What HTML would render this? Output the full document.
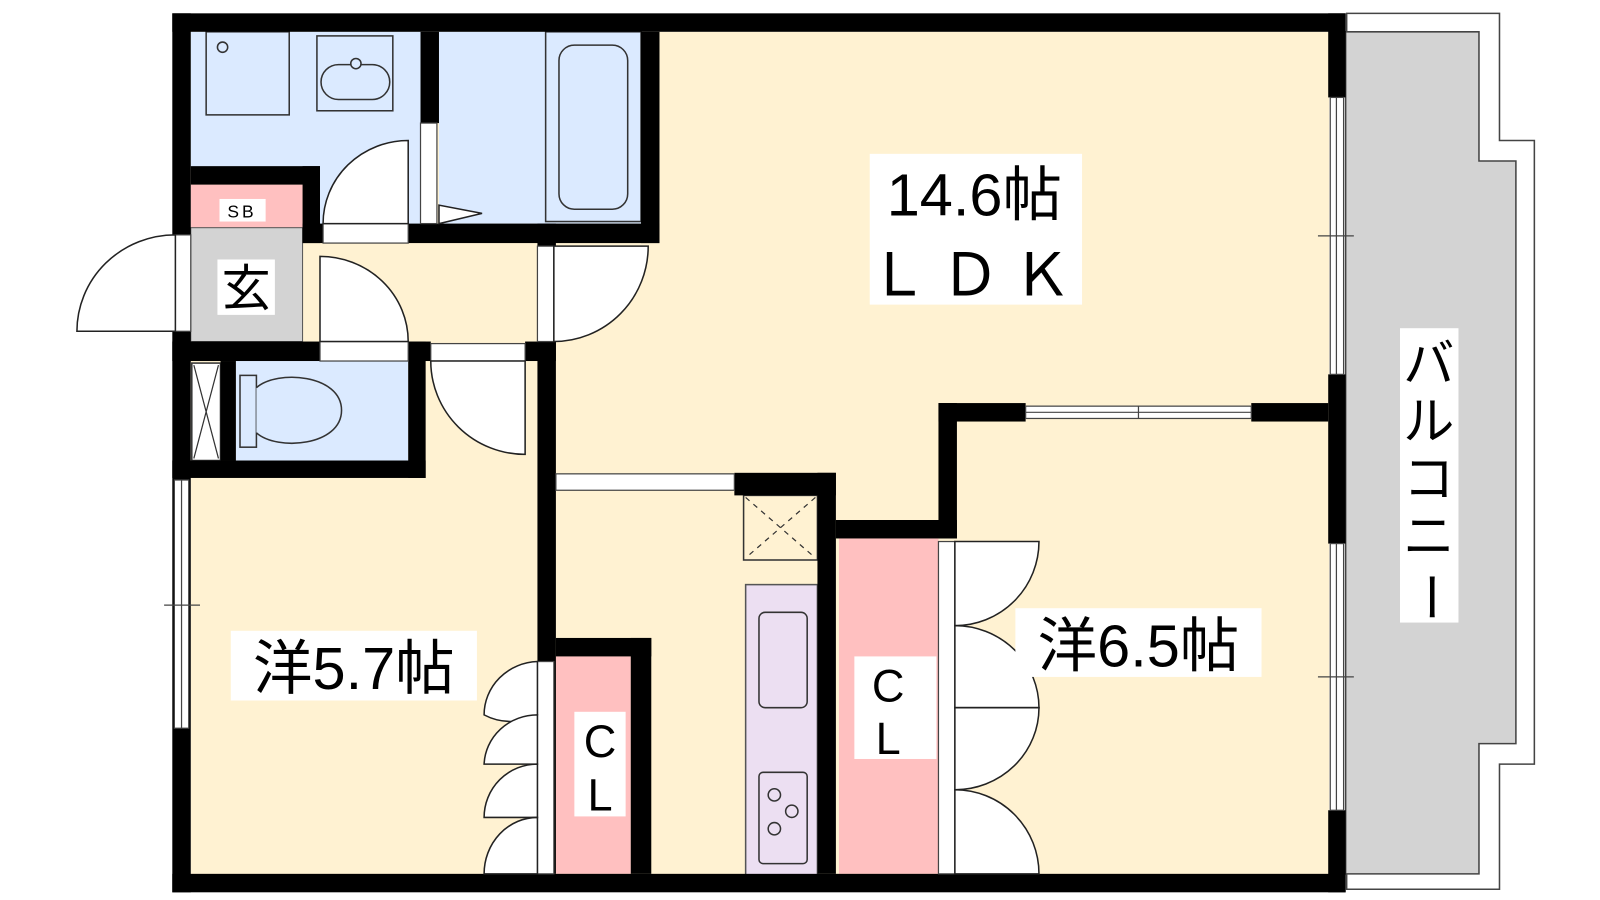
<!DOCTYPE html>
<html><head><meta charset="utf-8"><style>
html,body{margin:0;padding:0;background:#fff;}
svg{display:block}
text{font-family:"Liberation Sans","Noto Sans CJK JP",sans-serif;fill:#000}
</style></head><body>
<svg width="1600" height="900" viewBox="0 0 1560 877.5" preserveAspectRatio="none" xmlns="http://www.w3.org/2000/svg">
<rect width="1560" height="877.5" fill="#fff"/>
<!-- balcony -->
<polygon points="1313,13 1462,13 1462,137 1496,137 1496,745 1462,745 1462,867 1313,867" fill="#fff" stroke="#444" stroke-width="1.5"/>
<polygon points="1312,31 1442,31 1442,157 1478,157 1478,725 1442,725 1442,852 1312,852" fill="#d3d3d3" stroke="#444" stroke-width="1.5"/>
<!-- interior cream -->
<rect x="186" y="31" width="1110" height="822" fill="#fff2d2"/>
<!-- wash & bath -->
<rect x="186" y="31" width="224" height="132" fill="#dbeaff"/>
<rect x="312" y="31" width="98" height="200" fill="#dbeaff"/>
<rect x="428" y="31" width="197" height="187" fill="#dbeaff"/>
<rect x="201" y="31" width="81" height="81" fill="none" stroke="#333" stroke-width="1.5"/>
<circle cx="217" cy="46" r="5" fill="none" stroke="#333" stroke-width="1.5"/>
<rect x="309" y="35" width="74" height="73" fill="none" stroke="#333" stroke-width="1.5"/>
<rect x="313" y="63" width="67" height="34" rx="17" fill="none" stroke="#333" stroke-width="1.5"/>
<circle cx="347" cy="62" r="5" fill="#dbeaff" stroke="#333" stroke-width="1.5"/>
<rect x="532" y="31" width="93" height="185" fill="none" stroke="#333" stroke-width="1.5"/>
<rect x="545" y="44" width="67" height="160" rx="15" fill="none" stroke="#333" stroke-width="1.5"/>
<!-- SB / genkan -->
<rect x="186" y="180" width="109" height="42" fill="#ffc0c0"/>
<rect x="186" y="222" width="109" height="111" fill="#d3d3d3" stroke="#555" stroke-width="1"/>
<rect x="214" y="194" width="45" height="22" fill="#fff"/>
<text x="236" y="212" font-size="17" text-anchor="middle" letter-spacing="3">SB</text>
<rect x="212" y="253" width="56" height="54" fill="#fff"/>
<text x="240" y="298" font-size="48" text-anchor="middle">玄</text>
<!-- toilet -->
<rect x="230" y="352" width="168" height="97" fill="#dbeaff"/>
<rect x="187" y="354" width="28" height="95" fill="#fff" stroke="#333" stroke-width="1.5"/>
<path d="M189,356 L213,447 M213,356 L189,447" stroke="#333" stroke-width="1.2"/>
<rect x="234" y="366" width="16" height="70" fill="#dbeaff" stroke="#333" stroke-width="1.5"/>
<path d="M250,378 C270,360 333,365 333,400 C333,435 270,440 250,422" fill="#dbeaff" stroke="#333" stroke-width="1.5"/>
<!-- kitchen -->
<rect x="725" y="483" width="72" height="63" fill="none" stroke="#333" stroke-width="1.5"/>
<path d="M727,485 L795,544 M795,485 L727,544" stroke="#333" stroke-width="1.2" stroke-dasharray="5,5"/>
<rect x="727" y="570" width="70" height="283" fill="#ecdff2" stroke="#555" stroke-width="1.5"/>
<rect x="740" y="597" width="47" height="93" rx="6" fill="none" stroke="#333" stroke-width="1.5"/>
<rect x="740" y="753" width="47" height="89" rx="4" fill="none" stroke="#333" stroke-width="1.5"/>
<circle cx="755" cy="775" r="6" fill="none" stroke="#333" stroke-width="1.5"/>
<circle cx="772" cy="791" r="6" fill="none" stroke="#333" stroke-width="1.5"/>
<circle cx="755" cy="808" r="6" fill="none" stroke="#333" stroke-width="1.5"/>
<!-- closets -->
<rect x="542" y="640" width="73" height="212" fill="#ffc0c0"/>
<rect x="818" y="525" width="97" height="327" fill="#ffc0c0"/>
<!-- walls -->
<g fill="#000">
<rect x="168" y="13" width="1144" height="18"/>
<rect x="168" y="13" width="18" height="857"/>
<rect x="168" y="852" width="1144" height="18"/>
<rect x="1295" y="13" width="17" height="82"/>
<rect x="1295" y="365" width="17" height="165"/>
<rect x="1295" y="790" width="17" height="80"/>
<rect x="186" y="162" width="126" height="18"/>
<rect x="295" y="162" width="17" height="75"/>
<rect x="410" y="31" width="18" height="89"/>
<rect x="295" y="218" width="348" height="19"/>
<rect x="625" y="31" width="18" height="206"/>
<rect x="524" y="218" width="18" height="22"/>
<rect x="168" y="333" width="252" height="19"/>
<rect x="512" y="333" width="30" height="19"/>
<rect x="398" y="333" width="17" height="133"/>
<rect x="215" y="352" width="15" height="97"/>
<rect x="168" y="449" width="247" height="17"/>
<rect x="524" y="333" width="18" height="519"/>
<rect x="542" y="622" width="93" height="18"/>
<rect x="615" y="622" width="20" height="230"/>
<rect x="716" y="461" width="99" height="22"/>
<rect x="797" y="461" width="18" height="391"/>
<rect x="815" y="507" width="118" height="18"/>
<rect x="915" y="393" width="18" height="132"/>
<rect x="915" y="393" width="85" height="18"/>
<rect x="1220" y="393" width="75" height="18"/>
</g>
<!-- windows / slabs -->
<g fill="#fff" stroke="#444" stroke-width="1.2">
<rect x="1297" y="95" width="13" height="270"/>
<rect x="1297" y="530" width="13" height="260"/>
<rect x="170" y="468" width="14" height="242"/>
<rect x="1000" y="396" width="220" height="12"/>
<rect x="542" y="462" width="174" height="16"/>
<rect x="410" y="120" width="16" height="98"/>
<rect x="315" y="218" width="83" height="19"/>
<rect x="171" y="229" width="15" height="94"/>
<rect x="312" y="333" width="86" height="19"/>
<rect x="420" y="335" width="92" height="17"/>
<rect x="524" y="240" width="16" height="93"/>
<rect x="524" y="645" width="16" height="207"/>
<rect x="915" y="528" width="16" height="324"/>
</g>
<g stroke="#444" stroke-width="1.2">
<line x1="1303" y1="95" x2="1303" y2="365"/><line x1="1303" y1="530" x2="1303" y2="790"/>
<line x1="177" y1="468" x2="177" y2="710"/><line x1="1000" y1="402" x2="1220" y2="402"/>
<line x1="1285" y1="230" x2="1320" y2="230"/><line x1="1285" y1="660" x2="1320" y2="660"/>
<line x1="160" y1="590" x2="195" y2="590"/><line x1="1110" y1="396" x2="1110" y2="408"/>
</g>
<!-- doors -->
<g fill="#fff" stroke="#222" stroke-width="1.5">
<path d="M398,218 L398,137 A83,81 0 0 0 315,218 Z"/>
<path d="M171,323 L75,323 A96,94 0 0 1 171,229 Z"/>
<path d="M312,333 L312,250 A86,83 0 0 1 398,333 Z"/>
<path d="M512,352 L512,443 A92,91 0 0 1 420,352 Z"/>
<path d="M540,240 L632,240 A92,93 0 0 1 540,333 Z"/>
<path d="M428,218 L428,200 L470,208 Z"/>
<path d="M524,645 A54,52 0 0 0 472,697 A54,52 0 0 0 524,697 Z"/>
<path d="M524,697 A52,50 0 0 0 472,745 L524,745 Z"/>
<path d="M524,745 A52,52 0 0 0 472,797 L524,797 Z"/>
<path d="M524,797 A52,55 0 0 0 472,852 L524,852 Z"/>
<path d="M931,528 L1013,528 A82,82 0 0 1 931,610 Z"/>
<path d="M931,610 A82,80 0 0 1 1013,690 L931,690 Z"/>
<path d="M931,690 L1013,690 A82,80 0 0 1 931,770 Z"/>
<path d="M931,770 A82,82 0 0 1 1013,852 L931,852 Z"/>
</g>
<!-- labels -->
<rect x="848" y="150" width="207" height="147" fill="#fff"/>
<text x="950" y="210" font-size="58" text-anchor="middle">14.6帖</text>
<text x="952" y="288" font-size="58" text-anchor="middle" letter-spacing="12">ＬＤＫ</text>
<rect x="225" y="615" width="240" height="68" fill="#fff"/>
<text x="345" y="672" font-size="58" text-anchor="middle">洋5.7帖</text>
<rect x="990" y="593" width="240" height="67" fill="#fff"/>
<text x="1110" y="650" font-size="58" text-anchor="middle">洋6.5帖</text>
<rect x="560" y="694" width="50" height="102" fill="#fff"/>
<text x="585" y="738" font-size="44" text-anchor="middle">C</text>
<text x="585" y="790" font-size="44" text-anchor="middle">L</text>
<rect x="833" y="640" width="80" height="100" fill="#fff"/>
<text x="866" y="684" font-size="44" text-anchor="middle">C</text>
<text x="866" y="735" font-size="44" text-anchor="middle">L</text>
<rect x="1365" y="320" width="57" height="287" fill="#fff"/>
<text x="1393" y="372" font-size="50" text-anchor="middle">バ</text>
<text x="1393" y="428" font-size="50" text-anchor="middle">ル</text>
<text x="1393" y="484" font-size="50" text-anchor="middle">コ</text>
<text x="1393" y="540" font-size="50" text-anchor="middle">ニ</text>
<text x="1393" y="598" font-size="50" text-anchor="middle" transform="rotate(90 1393 582)">ー</text>
</svg>
</body></html>
